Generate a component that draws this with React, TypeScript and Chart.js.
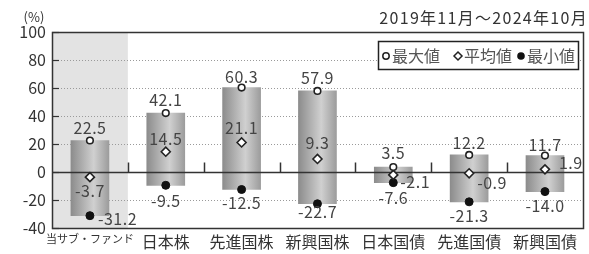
import React, { useEffect, useRef } from "react";
import { Chart, registerables } from "chart.js";

Chart.register(...registerables);

const FONT = '"Noto Sans CJK JP", "Noto Sans", sans-serif';

const categories = ["当サブ・ファンド", "日本株", "先進国株", "新興国株", "日本国債", "先進国債", "新興国債"];
const maxValues = [22.5, 42.1, 60.3, 57.9, 3.5, 12.2, 11.7];
const meanValues = [-3.7, 14.5, 21.1, 9.3, -2.1, -0.9, 1.9];
const minValues = [-31.2, -9.5, -12.5, -22.7, -7.6, -21.3, -14.0];
const yMin = -40;
const yMax = 100;
const yStep = 20;
const periodLabel = "2019年11月～2024年10月";
const unitLabel = "(%)";
const legendLabels = ["最大値", "平均値", "最小値"];

// label placement (style only)
type Pos = { dx: number; dy: number; align: CanvasTextAlign };
const maxLabelPos: Pos[] = [
  { dx: 0, dy: -13, align: "center" },
  { dx: 0, dy: -13, align: "center" },
  { dx: 0, dy: -11, align: "center" },
  { dx: 0, dy: -13, align: "center" },
  { dx: 0, dy: -14, align: "center" },
  { dx: 0, dy: -12, align: "center" },
  { dx: 0, dy: -11, align: "center" },
];
const meanLabelPos: Pos[] = [
  { dx: 0, dy: 14, align: "center" },
  { dx: 0, dy: -13, align: "center" },
  { dx: 0, dy: -15, align: "center" },
  { dx: 0, dy: -16, align: "center" },
  { dx: 7, dy: 7, align: "left" },
  { dx: 8, dy: 10, align: "left" },
  { dx: 14, dy: -6, align: "left" },
];
const minLabelPos: Pos[] = [
  { dx: 8, dy: 3, align: "left" },
  { dx: 0, dy: 16, align: "center" },
  { dx: 0, dy: 13, align: "center" },
  { dx: 0, dy: 8, align: "center" },
  { dx: 0, dy: 15, align: "center" },
  { dx: 0, dy: 14, align: "center" },
  { dx: 0, dy: 14, align: "center" },
];

const BAR_W = 38;

const customPlugin = {
  id: "custom",
  beforeDraw(chart: any) {
    const { ctx, chartArea: a, scales } = chart;
    const x = scales.x;
    ctx.save();
    ctx.fillStyle = "#ffffff";
    ctx.fillRect(0, 0, chart.width, chart.height);
    const right = (x.getPixelForValue(0) + x.getPixelForValue(1)) / 2;
    ctx.fillStyle = "#e3e3e3";
    ctx.fillRect(a.left, a.top, right - a.left, a.bottom - a.top);
    ctx.restore();
  },
  afterDatasetDraw(chart: any, args: any) {
    if (args.index !== 3) return;
    const { ctx, chartArea: a, scales } = chart;
    const x = scales.x;
    const y = scales.y;
    const y0 = Math.round(y.getPixelForValue(0)) + 0.5;
    ctx.save();
    ctx.strokeStyle = "#333";
    ctx.lineWidth = 1.3;
    ctx.beginPath();
    ctx.moveTo(a.left, y0);
    ctx.lineTo(a.right, y0);
    ctx.stroke();
    ctx.lineWidth = 1.5;
    for (let i = 1; i < categories.length; i++) {
      const bx = Math.round((x.getPixelForValue(i - 1) + x.getPixelForValue(i)) / 2) + 0.5;
      ctx.beginPath();
      ctx.moveTo(bx, y0 - 10);
      ctx.lineTo(bx, y0);
      ctx.stroke();
    }
    // inward y ticks
    ctx.lineWidth = 1.2;
    for (let v = yMin; v <= yMax; v += yStep) {
      const py = Math.round(y.getPixelForValue(v)) + 0.5;
      ctx.beginPath();
      ctx.moveTo(a.left, py);
      ctx.lineTo(a.left + 7, py);
      ctx.stroke();
    }
    ctx.restore();
  },
  afterDraw(chart: any) {
    const { ctx, chartArea: a } = chart;
    ctx.save();
    // frame
    ctx.strokeStyle = "#333";
    ctx.lineWidth = 1.5;
    ctx.strokeRect(Math.round(a.left) + 0.5, Math.round(a.top) + 0.5, Math.round(a.right - a.left), Math.round(a.bottom - a.top));

    // data labels
    ctx.fillStyle = "#444";
    ctx.font = `16px ${FONT}`;
    (ctx as any).letterSpacing = "0.5px";
    ctx.textBaseline = "middle";
    const sets: [number, number[], Pos[]][] = [
      [0, maxValues, maxLabelPos],
      [1, meanValues, meanLabelPos],
      [2, minValues, minLabelPos],
    ];
    for (const [di, vals, pos] of sets) {
      const meta = chart.getDatasetMeta(di);
      meta.data.forEach((pt: any, i: number) => {
        const p = pos[i];
        ctx.textAlign = p.align;
        ctx.fillText(vals[i].toFixed(1), pt.x + p.dx, pt.y + p.dy);
      });
    }
    (ctx as any).letterSpacing = "0px";

    // legend
    const lx = 378, ly = 41, lw = 200, lh = 28;
    ctx.fillStyle = "#fff";
    ctx.fillRect(lx, ly, lw, lh);
    ctx.strokeStyle = "#222";
    ctx.lineWidth = 1.5;
    ctx.strokeRect(lx + 0.5, ly + 0.5, lw, lh);
    const cy = ly + lh / 2 + 1;
    const items = [
      { mx: lx + 8, style: "circle" },
      { mx: lx + 80, style: "rectRot" },
      { mx: lx + 143, style: "dot" },
    ];
    ctx.font = `16px ${FONT}`;
    ctx.textAlign = "left";
    ctx.textBaseline = "middle";
    items.forEach((it, i) => {
      ctx.lineWidth = 1.5;
      ctx.strokeStyle = "#222";
      if (it.style === "circle") {
        ctx.fillStyle = "#fff";
        ctx.beginPath();
        ctx.arc(it.mx, cy, 3.2, 0, Math.PI * 2);
        ctx.fill();
        ctx.stroke();
      } else if (it.style === "rectRot") {
        ctx.fillStyle = "#fff";
        ctx.beginPath();
        ctx.moveTo(it.mx, cy - 4);
        ctx.lineTo(it.mx + 4, cy);
        ctx.lineTo(it.mx, cy + 4);
        ctx.lineTo(it.mx - 4, cy);
        ctx.closePath();
        ctx.fill();
        ctx.stroke();
      } else {
        ctx.fillStyle = "#111";
        ctx.beginPath();
        ctx.arc(it.mx, cy, 3.8, 0, Math.PI * 2);
        ctx.fill();
      }
      ctx.fillStyle = "#555";
      ctx.fillText(legendLabels[i], it.mx + 6, cy);
    });

    // headers
    ctx.fillStyle = "#333";
    ctx.font = `13px ${FONT}`;
    ctx.textAlign = "center";
    ctx.fillText(unitLabel, 34, 17);
    ctx.font = `16px ${FONT}`;
    (ctx as any).letterSpacing = "1.3px";
    ctx.textAlign = "right";
    ctx.fillText(periodLabel, 588, 18);
    (ctx as any).letterSpacing = "0px";
    ctx.restore();
  },
};

export default function App() {
  const ref = useRef<HTMLCanvasElement | null>(null);
  useEffect(() => {
    if (!ref.current) return;
    const chart = new Chart(ref.current, {
      type: "bar",
      data: {
        labels: categories,
        datasets: [
          {
            type: "line",
            label: legendLabels[0],
            data: maxValues,
            showLine: false,
            pointStyle: "circle",
            pointRadius: 3.3,
            pointBackgroundColor: "#fff",
            pointBorderColor: "#222",
            pointBorderWidth: 1.6,
          } as any,
          {
            type: "line",
            label: legendLabels[1],
            data: meanValues,
            showLine: false,
            pointStyle: "rectRot",
            pointRadius: 4.5,
            pointBackgroundColor: "#fff",
            pointBorderColor: "#222",
            pointBorderWidth: 1.6,
          } as any,
          {
            type: "line",
            label: legendLabels[2],
            data: minValues,
            showLine: false,
            pointStyle: "circle",
            pointRadius: 4,
            pointBackgroundColor: "#111",
            pointBorderColor: "#111",
            pointBorderWidth: 1,
          } as any,
          {
            type: "bar",
            label: "range",
            data: minValues.map((m, i) => [m, maxValues[i]]),
            barThickness: BAR_W,
            borderWidth: 0,
            backgroundColor: (c: any) => {
              const chart = c.chart;
              if (!chart.chartArea || c.dataIndex === undefined) return "#aaa";
              const cx = chart.scales.x.getPixelForValue(c.dataIndex);
              const g = chart.ctx.createLinearGradient(cx - BAR_W / 2, 0, cx + BAR_W / 2, 0);
              g.addColorStop(0, "#8c8c8c");
              g.addColorStop(0.6, "#d0d0d0");
              g.addColorStop(1, "#9c9c9c");
              return g;
            },
          } as any,
        ],
      },
      options: {
        animation: false,
        responsive: true,
        maintainAspectRatio: false,
        events: [],
        layout: { padding: { top: 32, right: 4, left: 0, bottom: 0 } },
        plugins: { legend: { display: false }, tooltip: { enabled: false } },
        scales: {
          x: {
            grid: { display: false, drawTicks: false },
            border: { display: false },
            ticks: {
              color: "#333",
              padding: 4,
              maxRotation: 0,
              autoSkip: false,
              font: (c: any) => ({ family: FONT, size: c.index === 0 ? 11 : 16 }),
            },
            afterFit: (s: any) => {
              s.height = 26;
            },
          },
          y: {
            min: yMin,
            max: yMax,
            ticks: { stepSize: yStep, color: "#333", padding: 6, font: { family: FONT, size: 16 } },
            grid: { color: "#9a9a9a", drawTicks: false, lineWidth: 1 },
            border: { display: false, dash: [1, 2] },
            afterFit: (s: any) => {
              s.width = 52;
            },
          },
        },
      },
      plugins: [customPlugin],
    });
    return () => chart.destroy();
  }, []);
  return (
    <div style={{ position: "fixed", left: 0, top: 0, width: 589, height: 254, background: "#fff" }}>
      <canvas ref={ref} />
    </div>
  );
}
